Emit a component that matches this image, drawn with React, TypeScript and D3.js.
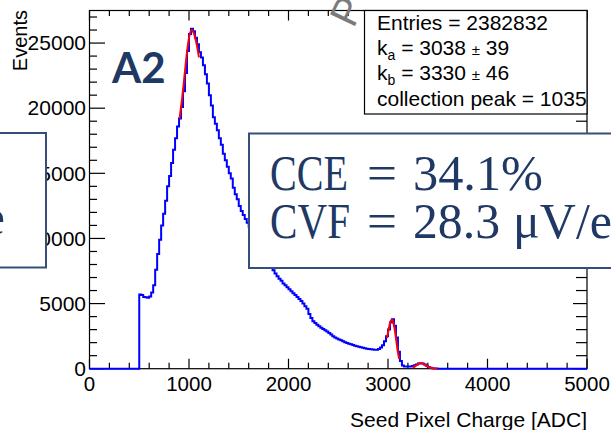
import React from "react";
import * as d3 from "d3";

const W = 611;
const H = 430;

// axis ranges
const xDomain: [number, number] = [0, 5000];
const yDomain: [number, number] = [0, 27500];

// histogram (Seed Pixel Charge), bins of 20 ADC starting at 500
const binStart = 500;
const binWidth = 20;
const counts = [
  5700, 5650, 5500, 5480, 5450, 5550, 5850, 6400, 7600, 8800,
  9900, 11000, 11900, 12900, 14000, 14800, 15800, 16800, 17700, 18600,
  19200, 20100, 21300, 22700, 24400, 25700, 26100, 25900, 25400, 24900,
  24300, 23900, 23300, 22600, 21900, 21000, 20200, 19300, 18800, 18300,
  17700, 17200, 16500, 16000, 15500, 15000, 14600, 13900, 13400, 13000,
  12500, 12100, 11800, 11500, 11200, 10900, 10600, 10300, 10000, 9700,
  9450, 9150, 8900, 8600, 8350, 8100, 7800, 7550, 7300, 7100,
  6900, 6750, 6550, 6400, 6250, 6100, 5950, 5800, 5650, 5500,
  5350, 5200, 5000, 4800, 4600, 4200, 3900, 3650, 3500, 3380,
  3250, 3150, 3050, 2950, 2850, 2750, 2620, 2500, 2400, 2320,
  2250, 2180, 2100, 2040, 1980, 1920, 1870, 1820, 1770, 1720,
  1680, 1640, 1600, 1570, 1540, 1510, 1490, 1470, 1450, 1450,
  1520, 1620, 1800, 2100, 2500, 3000, 3550, 3800, 3300, 2400,
  1300, 600, 250, 170, 160, 160, 170, 200, 260, 330,
  390, 420, 400, 330, 230, 140, 80, 40, 20, 10, 5,
];

// fit curves (red)
const fitA_x = [905, 930, 955, 980, 1005, 1030, 1055, 1080, 1100];
const fitA_y = [19200, 20700, 22500, 24300, 25600, 26000, 25600, 24800, 23900];
const fitB_x = [2990, 3005, 3020, 3038, 3055, 3070, 3085, 3100, 3112];
const fitB_y = [2350, 2950, 3500, 3750, 3500, 2900, 2050, 1250, 750];
const fitC_x = [3250, 3275, 3300, 3320, 3335, 3355, 3380, 3410, 3440, 3470, 3495];
const fitC_y = [90, 200, 340, 410, 420, 380, 260, 130, 55, 20, 5];

// ticks
const xTickValues = [0, 1000, 2000, 3000, 4000, 5000];
const xTickLabels = ["0", "1000", "2000", "3000", "4000", "5000"];
const yTickValues = [0, 5000, 10000, 15000, 20000, 25000];
const yTickLabels = ["0", "5000", "10000", "15000", "20000", "25000"];
const xMinorStep = 200;
const yMinorStep = 1000;

// texts
const xTitle = "Seed Pixel Charge [ADC]";
const yTitle = "Events";
const statsEntries = "Entries = 2382832";
const statsKa = ["k", "a", " = 3038 ", "\u00B1", " 39"];
const statsKb = ["k", "b", " = 3330 ", "\u00B1", " 46"];
const statsPeak = "collection peak = 1035";
const panelLabel = "A2";
const cceLine = ["CCE", "=", "34.1%"];
const cvfLine = ["CVF", "=", "28.3", "\u03BCV/e"];

const SANS = "'Liberation Sans', Arial, Helvetica, sans-serif";
const SERIF = "'Liberation Serif', 'Times New Roman', serif";
const NAVY = "#203864";
const BOXSTROKE = "#34507a";

export default function App() {
  const left = 89.5, right = 587, top = 10.5, bottom = 368.7;
  const x = d3.scaleLinear().domain(xDomain).range([left, right]);
  const y = d3.scaleLinear().domain(yDomain).range([bottom, top]);

  // histogram step outline
  const pts: [number, number][] = [[0, 0], [binStart, 0]];
  counts.forEach((c, i) => pts.push([binStart + i * binWidth, c]));
  const endX = binStart + counts.length * binWidth;
  pts.push([endX, 0]);
  pts.push([xDomain[1], 0]);
  const histLine = d3
    .line<[number, number]>()
    .x((d) => x(d[0]))
    .y((d) => y(d[1]))
    .curve(d3.curveStepAfter);

  const fitLine = d3
    .line<[number, number]>()
    .x((d) => x(d[0]))
    .y((d) => y(d[1]))
    .curve(d3.curveMonotoneX);
  const zip = (a: number[], b: number[]) => a.map((v, i) => [v, b[i]] as [number, number]);

  const xMinor = d3.range(xDomain[0], xDomain[1] + 1, xMinorStep);
  const yMinor = d3.range(0, yDomain[1], yMinorStep);

  const boxText = (parts: string[], yb: number) => (
    <text x={377} y={yb} fontFamily={SANS} fontSize={21} fill="#000">
      <tspan>{parts[0]}</tspan>
      <tspan fontSize={14} dy={5}>{parts[1]}</tspan>
      <tspan dy={-5}>{parts[2]}</tspan>
      <tspan fontSize={15}>{parts[3]}</tspan>
      <tspan>{parts[4]}</tspan>
    </text>
  );

  return (
    <svg width={W} height={H} style={{ position: "absolute", left: 0, top: 0, background: "#fff" }}>
      <rect x={0} y={0} width={W} height={H} fill="#fff" />
      {/* frame */}
      <rect x={left} y={top} width={right - left} height={bottom - top} fill="none" stroke="#000" strokeWidth={1.2} />
      {/* x ticks bottom and top */}
      {xMinor.map((v) => {
        const major = v % 1000 === 0;
        const L = major ? 10 : 6;
        return (
          <g key={"xt" + v}>
            <line x1={x(v)} x2={x(v)} y1={bottom} y2={bottom - L} stroke="#000" strokeWidth={1.2} />
            <line x1={x(v)} x2={x(v)} y1={top} y2={top + (major ? 10 : 5.5)} stroke="#000" strokeWidth={1.2} />
          </g>
        );
      })}
      {/* y ticks left and right */}
      {yMinor.map((v) => {
        const major = v % 5000 === 0;
        const L = major ? 15.5 : 7.5;
        return (
          <g key={"yt" + v}>
            <line x1={left} x2={left + L} y1={y(v)} y2={y(v)} stroke="#000" strokeWidth={1.2} />
            <line x1={right} x2={right - (major ? 14 : 11)} y1={y(v)} y2={y(v)} stroke="#000" strokeWidth={1.2} />
          </g>
        );
      })}
      {/* tick labels */}
      {xTickValues.map((v, i) => (
        <text key={"xl" + v} x={x(v)} y={391} textAnchor="middle" fontFamily={SANS} fontSize={20.5}>
          {xTickLabels[i]}
        </text>
      ))}
      {yTickValues.map((v, i) => (
        <text key={"yl" + v} x={86} y={y(v) + 7.3} textAnchor="end" fontFamily={SANS} fontSize={21}>
          {yTickLabels[i]}
        </text>
      ))}
      {/* axis titles */}
      <text x={587} y={427} textAnchor="end" fontFamily={SANS} fontSize={21}>
        {xTitle}
      </text>
      <text transform="translate(27,10) rotate(-90)" textAnchor="end" fontFamily={SANS} fontSize={20}>
        {yTitle}
      </text>

      {/* histogram */}
      <path d={histLine(pts) || ""} fill="none" stroke="#0000ff" strokeWidth={2} />
      {/* fits */}
      {[zip(fitA_x, fitA_y), zip(fitB_x, fitB_y), zip(fitC_x, fitC_y)].map((f, i) => (
        <path key={"fit" + i} d={fitLine(f) || ""} fill="none" stroke="#ff0000" strokeWidth={2} />
      ))}

      {/* stats box */}
      <rect x={364.5} y={top} width={right - 364.5} height={103.5} fill="#fff" stroke="#000" strokeWidth={1.2} />
      <text x={377} y={29.5} fontFamily={SANS} fontSize={21}>{statsEntries}</text>
      {boxText(statsKa, 55)}
      {boxText(statsKb, 79.5)}
      <text x={377} y={106} fontFamily={SANS} fontSize={21}>{statsPeak}</text>

      {/* watermark letter */}
      <text transform="translate(353.5,29) rotate(-64.5)" fontFamily={SANS} fontSize={40} fill="#7a7a7a">
        P
      </text>

      {/* panel label */}
      <text x={112} y={83} fontFamily="Lato, 'Open Sans', sans-serif" fontWeight={700} fontSize={42} fill={NAVY}>
        {panelLabel}
      </text>

      {/* CCE/CVF box */}
      <rect x={249} y={133.5} width={420} height={134.5} fill="#fff" stroke={BOXSTROKE} strokeWidth={2} />
      <text fontFamily={SERIF} fontSize={50} fill={NAVY}>
        <tspan x={270} y={190} textLength={78} lengthAdjust="spacingAndGlyphs">{cceLine[0]}</tspan>
        <tspan x={367} y={190} textLength={30} lengthAdjust="spacingAndGlyphs">{cceLine[1]}</tspan>
        <tspan x={413} y={190} textLength={130} lengthAdjust="spacingAndGlyphs">{cceLine[2]}</tspan>
        <tspan x={270} y={238} textLength={80} lengthAdjust="spacingAndGlyphs">{cvfLine[0]}</tspan>
        <tspan x={367} y={238} textLength={30} lengthAdjust="spacingAndGlyphs">{cvfLine[1]}</tspan>
        <tspan x={413} y={238} textLength={87} lengthAdjust="spacingAndGlyphs">{cvfLine[2]}</tspan>
        <tspan x={513} y={238} textLength={99} lengthAdjust="spacingAndGlyphs">{cvfLine[3]}</tspan>
      </text>

      {/* left box (cut off) */}
      <rect x={-10} y={133} width={56} height={134.5} fill="#fff" stroke={BOXSTROKE} strokeWidth={2} />
      <text x={5} y={234} textAnchor="end" fontFamily={SERIF} fontSize={50} fill={NAVY}>e</text>
    </svg>
  );
}
